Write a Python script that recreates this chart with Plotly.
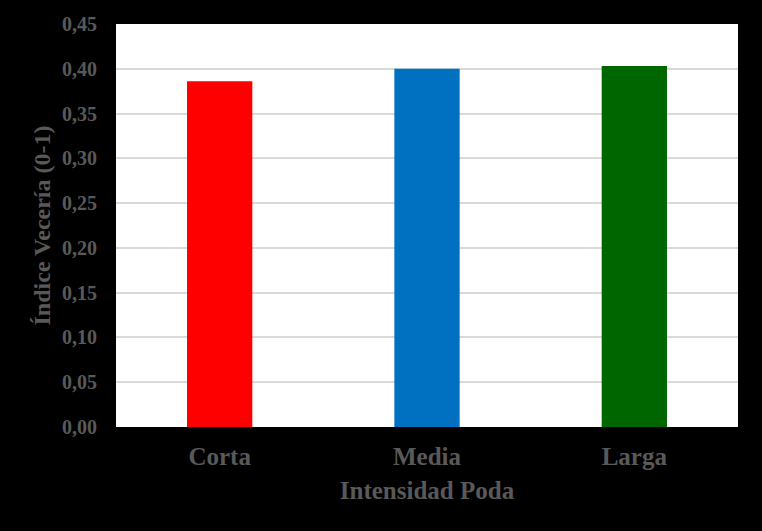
import plotly.graph_objects as go

categories = ["Corta", "Media", "Larga"]
values = [0.386, 0.400, 0.403]
colors = ["#FF0000", "#0070C0", "#006600"]
y_ticks = [0.0, 0.05, 0.10, 0.15, 0.20, 0.25, 0.30, 0.35, 0.40, 0.45]
y_tick_labels = [f"{v:.2f}".replace(".", ",") for v in y_ticks]

TEXT_COLOR = "#595959"
FONT = "Liberation Serif"

fig = go.Figure()
fig.add_trace(
    go.Bar(
        x=categories,
        y=values,
        marker={"color": colors, "line": {"width": 0}},
        width=0.315,
        showlegend=False,
    )
)
fig.update_layout(
    width=762,
    height=531,
    paper_bgcolor="black",
    plot_bgcolor="white",
    margin={"l": 116, "r": 24, "t": 24, "b": 104},
    font={"family": FONT, "color": TEXT_COLOR},
)
fig.update_xaxes(
    title={"text": "<b>Intensidad Poda</b>", "font": {"size": 25}, "standoff": 12},
    tickfont={"size": 25},
    tickvals=categories,
    ticktext=[f"<b>{c}</b>" for c in categories],
    ticklabelstandoff=12,
    showline=False,
    showgrid=False,
)
fig.update_yaxes(
    title={"text": "<b>Índice Vecería (0-1)</b>", "font": {"size": 24}, "standoff": 4},
    range=[0, 0.45],
    tickvals=y_ticks,
    ticktext=[f"<b>{t}</b>" for t in y_tick_labels],
    tickfont={"size": 20},
    ticklabelstandoff=18,
    gridcolor="#D9D9D9",
    gridwidth=1.5,
    zeroline=False,
    showline=False,
)

# page body has a default margin; drop it so the figure fills the window
fig.write_html(
    "out.html",
    config={"displayModeBar": False},
    post_script="document.body.style.margin='0';document.body.style.background='black';",
)
